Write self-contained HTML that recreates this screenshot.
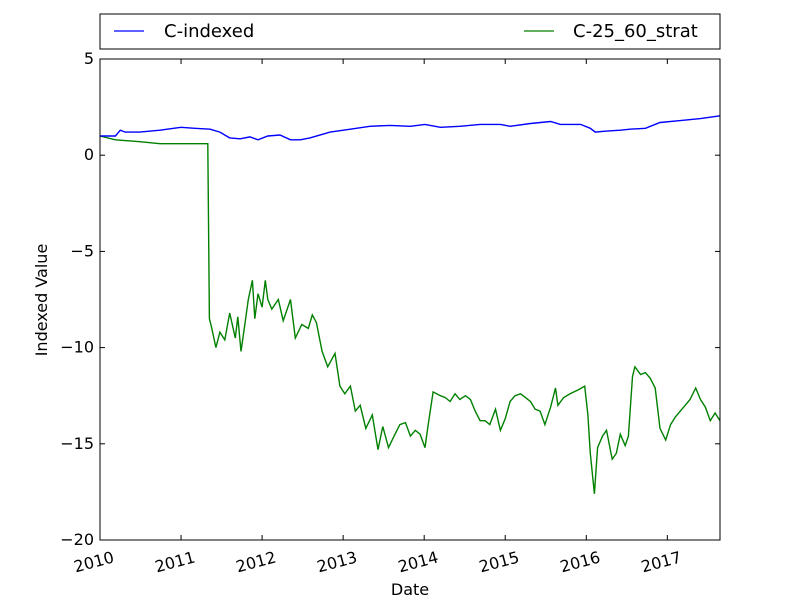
<!DOCTYPE html>
<html><head><meta charset="utf-8"><style>
body{margin:0;background:#fff;}
svg text{font-family:"DejaVu Sans","Liberation Sans",sans-serif;}
</style></head><body>
<svg id="chart" width="800" height="600" xmlns="http://www.w3.org/2000/svg">
<rect width="800" height="600" fill="#fff"/>
<g id="plot"></g>
</svg>
<script>
const blueDates=[0,0.19,0.25,0.31,0.49,0.74,1.0,1.17,1.36,1.48,1.60,1.73,1.85,1.95,2.07,2.22,2.35,2.47,2.59,2.84,3.09,3.33,3.58,3.83,4.01,4.20,4.44,4.69,4.94,5.06,5.31,5.56,5.68,5.93,6.05,6.11,6.23,6.42,6.54,6.73,6.91,7.16,7.41,7.65];
const blueValues=[1.0,1.0,1.3,1.2,1.2,1.3,1.45,1.4,1.35,1.2,0.9,0.85,0.95,0.8,1.0,1.05,0.8,0.8,0.9,1.2,1.35,1.5,1.55,1.5,1.6,1.45,1.5,1.6,1.6,1.5,1.65,1.75,1.6,1.6,1.4,1.2,1.25,1.3,1.35,1.4,1.7,1.8,1.9,2.05];
const greenDates=[0,0.19,0.49,0.74,1.0,1.33,1.35,1.38,1.43,1.48,1.54,1.60,1.67,1.70,1.74,1.79,1.83,1.88,1.91,1.95,2.0,2.04,2.07,2.12,2.20,2.26,2.35,2.41,2.49,2.57,2.62,2.67,2.74,2.81,2.90,2.96,3.02,3.09,3.15,3.21,3.28,3.36,3.43,3.49,3.56,3.64,3.70,3.77,3.83,3.89,3.95,4.01,4.05,4.11,4.20,4.26,4.32,4.38,4.44,4.51,4.57,4.63,4.69,4.75,4.81,4.88,4.94,5.0,5.06,5.12,5.19,5.25,5.31,5.37,5.43,5.49,5.56,5.62,5.65,5.72,5.80,5.90,5.98,6.02,6.05,6.10,6.14,6.20,6.25,6.32,6.37,6.42,6.48,6.52,6.57,6.60,6.67,6.73,6.79,6.85,6.91,6.98,7.04,7.10,7.16,7.22,7.28,7.35,7.41,7.47,7.53,7.59,7.65];
const greenValues=[1.0,0.8,0.7,0.6,0.6,0.6,-8.5,-9,-10,-9.2,-9.6,-8.2,-9.5,-8.4,-10.2,-8.7,-7.5,-6.5,-8.5,-7.2,-7.9,-6.5,-7.5,-8,-7.5,-8.6,-7.5,-9.5,-8.8,-9.0,-8.3,-8.7,-10.2,-11.0,-10.3,-12,-12.4,-12.0,-13.3,-13,-14.2,-13.5,-15.3,-14.1,-15.2,-14.5,-14.0,-13.9,-14.6,-14.3,-14.5,-15.2,-14,-12.3,-12.5,-12.6,-12.8,-12.4,-12.7,-12.5,-12.7,-13.3,-13.8,-13.8,-14.0,-13.2,-14.3,-13.7,-12.8,-12.5,-12.4,-12.6,-12.8,-13.2,-13.3,-14.0,-13.1,-12.1,-13,-12.6,-12.4,-12.2,-12.0,-13.5,-15.5,-17.6,-15.2,-14.6,-14.3,-15.8,-15.5,-14.5,-15.1,-14.6,-11.5,-11.0,-11.4,-11.3,-11.6,-12.1,-14.2,-14.8,-14.0,-13.6,-13.3,-13.0,-12.7,-12.1,-12.7,-13.1,-13.8,-13.4,-13.8];
const xTickLabels=["2010","2011","2012","2013","2014","2015","2016","2017"];
const yTickLabels=["5","0","\u22125","\u221210","\u221215","\u221220"];
const yTickValues=[5,0,-5,-10,-15,-20];

const L=100,R=720,T=59,B=540,X0=0,X1=7.65,Y0=-20,Y1=5;
const sx=v=>L+(v-X0)/(X1-X0)*(R-L);
const sy=v=>B-(v-Y0)/(Y1-Y0)*(B-T);
const NS="http://www.w3.org/2000/svg";
const g=document.getElementById('plot');
function mk(tag,attrs){const e=document.createElementNS(NS,tag);for(const k in attrs)e.setAttribute(k,attrs[k]);g.appendChild(e);return e;}

function series(dates,vals,color,name){
  const p=mk('polyline',{points:dates.map((d,i)=>sx(d).toFixed(1)+','+sy(vals[i]).toFixed(1)).join(' '),fill:'none',stroke:color,'stroke-width':1.4});
  
  
}
series(greenDates,greenValues,'#008000','c-25-60-strat-line');
series(blueDates,blueValues,'#0000ff','c-indexed-line');

const frame=mk('rect',{x:L,y:T,width:R-L,height:B-T,fill:'none',stroke:'#000','stroke-width':1});



xTickLabels.forEach((lab,i)=>{
  const x=sx(i);
  mk('line',{x1:x,y1:B,x2:x,y2:B-5,stroke:'#000'});
  mk('line',{x1:x,y1:T,x2:x,y2:T+5,stroke:'#000'});
  const t=mk('text',{x:x+15,y:B+22,'font-size':16,'text-anchor':'end',transform:`rotate(-15 ${x+15} ${B+22})`});
  t.textContent=lab;
  
  
});
yTickLabels.forEach((lab,i)=>{
  const y=sy(yTickValues[i]);
  mk('line',{x1:L,y1:y,x2:L+5,y2:y,stroke:'#000'});
  mk('line',{x1:R,y1:y,x2:R-5,y2:y,stroke:'#000'});
  const t=mk('text',{x:L-6,y:y+5,'font-size':16,'text-anchor':'end'});
  t.textContent=lab;
  
  
});
const xt=mk('text',{x:410,y:595,'font-size':16,'text-anchor':'middle'});
xt.textContent='Date';


const yt=mk('text',{x:47,y:300,'font-size':16,'text-anchor':'middle',transform:'rotate(-90 47 300)'});
yt.textContent='Indexed Value';



const lg=mk('rect',{x:100,y:14,width:620,height:35,fill:'#fff',stroke:'#000'});


mk('line',{x1:114,y1:31,x2:144,y2:31,stroke:'#0000ff','stroke-width':1.2});
const l1=mk('text',{x:164,y:37,'font-size':18});
l1.textContent='C-indexed';


mk('line',{x1:524,y1:31,x2:554,y2:31,stroke:'#008000','stroke-width':1.2});
const l2=mk('text',{x:573,y:37,'font-size':18});
l2.textContent='C-25_60_strat';


</script>
</body></html>
